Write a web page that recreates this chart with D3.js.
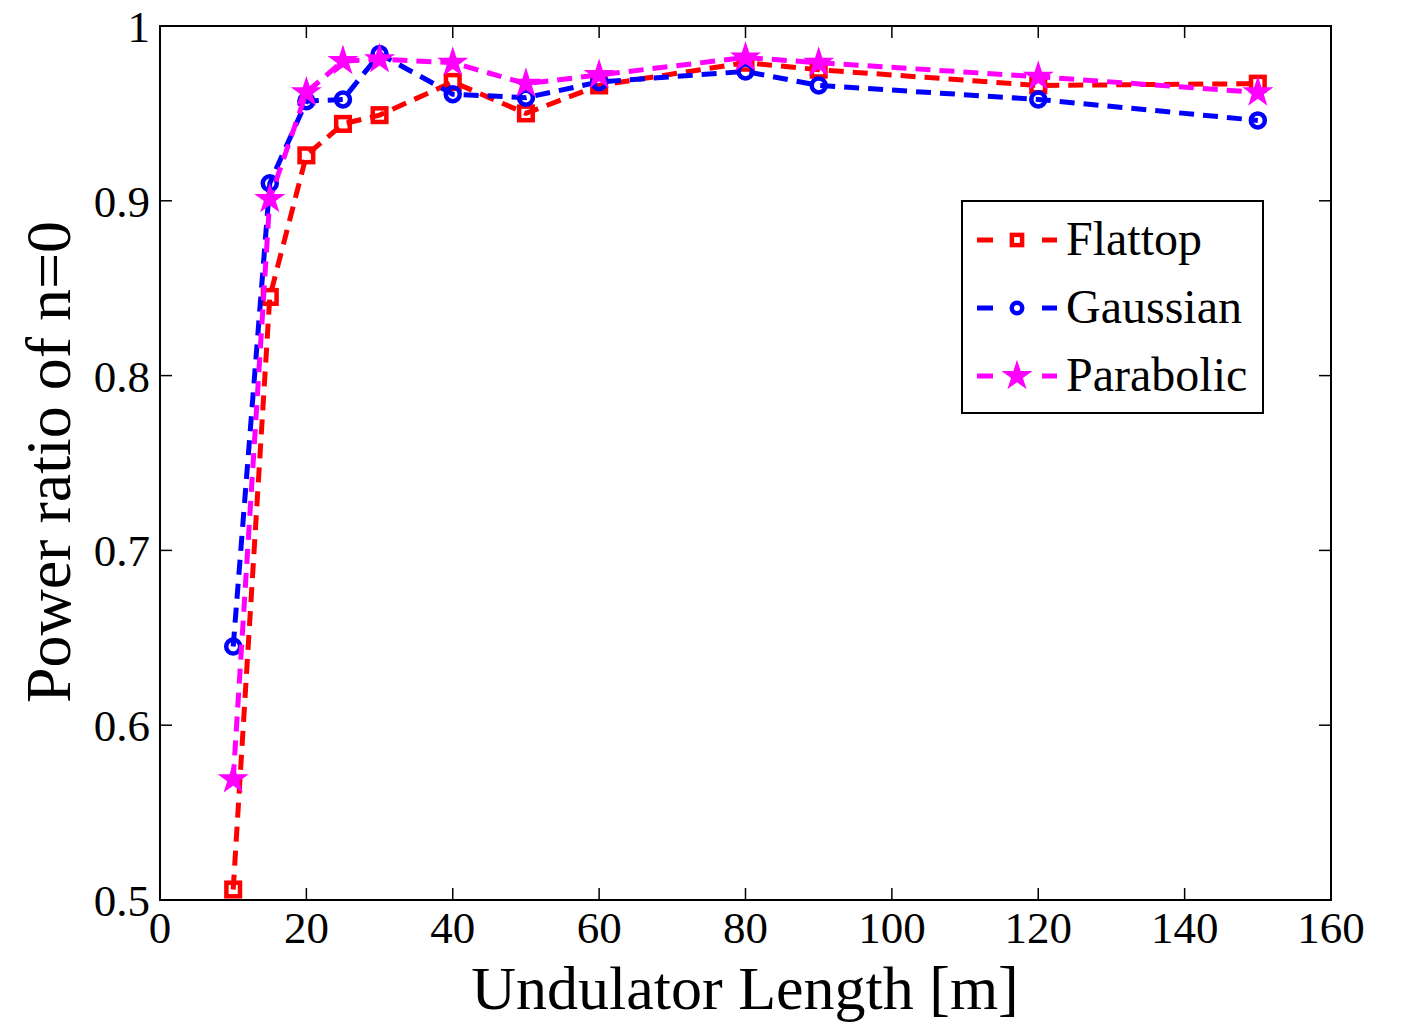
<!DOCTYPE html>
<html>
<head>
<meta charset="utf-8">
<script src="https://cdn.jsdelivr.net/npm/d3@7"></script>
<style>
  body { margin: 0; background: #fff; }
  text { font-family: "Liberation Serif", "DejaVu Serif", serif; fill: #000; }
</style>
</head>
<body>
<svg id="chart" width="1405" height="1024"></svg>
<script>
(function () {
'use strict';

var lengths = [10, 15, 20, 25, 30, 40, 50, 60, 80, 90, 120, 150];
var flattop = [0.506, 0.845, 0.926, 0.944, 0.949, 0.968, 0.950, 0.966, 0.979, 0.975, 0.966, 0.967];
var gaussian = [0.645, 0.910, 0.957, 0.958, 0.984, 0.961, 0.959, 0.968, 0.974, 0.966, 0.958, 0.946];
var parabolic = [0.569, 0.901, 0.962, 0.980, 0.981, 0.979, 0.967, 0.972, 0.982, 0.979, 0.971, 0.962];
var xTicks = [0, 20, 40, 60, 80, 100, 120, 140, 160];
var yTicks = [0.5, 0.6, 0.7, 0.8, 0.9, 1];

var series = [
    { name: "Flattop", values: flattop, color: "#ff0000", marker: "square" },
    { name: "Gaussian", values: gaussian, color: "#0000ff", marker: "circle" },
    { name: "Parabolic", values: parabolic, color: "#ff00ff", marker: "star" }
];

var svg = d3.select("#chart");
var left = 160, right = 1331, top = 26, bottom = 900;

var x = d3.scaleLinear().domain([0, 160]).range([left, right]);
var y = d3.scaleLinear().domain([0.5, 1]).range([bottom, top]);

var tickLen = 12;

// box
svg.append("rect")
    .attr("x", left).attr("y", top)
    .attr("width", right - left).attr("height", bottom - top)
    .attr("fill", "none").attr("stroke", "#000").attr("stroke-width", 2);

// inward ticks on all sides
var axisG = svg.append("g").attr("stroke", "#000").attr("stroke-width", 1.5);
xTicks.forEach(function (t) {
    axisG.append("line").attr("x1", x(t)).attr("x2", x(t)).attr("y1", bottom).attr("y2", bottom - tickLen);
    axisG.append("line").attr("x1", x(t)).attr("x2", x(t)).attr("y1", top).attr("y2", top + tickLen);
});
yTicks.forEach(function (t) {
    axisG.append("line").attr("x1", left).attr("x2", left + tickLen).attr("y1", y(t)).attr("y2", y(t));
    axisG.append("line").attr("x1", right).attr("x2", right - tickLen).attr("y1", y(t)).attr("y2", y(t));
});

// tick labels
svg.selectAll("text.xtick")
    .data(xTicks)
    .enter().append("text")
    .attr("class", "xtick")
    .attr("x", function (d) { return x(d); })
    .attr("y", 943)
    .attr("text-anchor", "middle")
    .attr("font-size", 45)
    .text(function (d) { return d; });

svg.selectAll("text.ytick")
    .data(yTicks)
    .enter().append("text")
    .attr("class", "ytick")
    .attr("x", 150)
    .attr("y", function (d) { return y(d) + 16; })
    .attr("text-anchor", "end")
    .attr("font-size", 45)
    .text(function (d) { return d === 1 ? "1" : d3.format(".1f")(d); });

// axis labels
svg.append("text")
    .attr("x", 745).attr("y", 1009)
    .attr("text-anchor", "middle")
    .attr("font-size", 62)
    .text("Undulator Length [m]");

svg.append("text")
    .attr("transform", "translate(70,462) rotate(-90)")
    .attr("text-anchor", "middle")
    .attr("font-size", 64)
    .text("Power ratio of n=0");

var line = d3.line()
    .x(function (d) { return x(d[0]); })
    .y(function (d) { return y(d[1]); });

function drawMarker(g, type, color, cx, cy, k) {
    k = k || 1;
    if (type === "square") {
        var h = 6.8 * k;
        g.append("rect")
            .attr("x", cx - h).attr("y", cy - h)
            .attr("width", 2 * h).attr("height", 2 * h)
            .attr("fill", "none").attr("stroke", color).attr("stroke-width", 4.5);
    } else if (type === "circle") {
        g.append("circle")
            .attr("cx", cx).attr("cy", cy).attr("r", 7 * k)
            .attr("fill", "none").attr("stroke", color).attr("stroke-width", 4.5);
    } else {
        g.append("path")
            .attr("d", d3.symbol().type(d3.symbolStar).size(300 * k * k)())
            .attr("transform", "translate(" + cx + "," + cy + ")")
            .attr("fill", color);
    }
}

var plot = svg.append("g");
series.forEach(function (s) {
    var pts = lengths.map(function (l, i) { return [l, s.values[i]]; });
    var g = plot.append("g");
    g.append("path")
        .datum(pts)
        .attr("d", line)
        .attr("fill", "none")
        .attr("stroke", s.color)
        .attr("stroke-width", 5)
        .attr("stroke-dasharray", "15,9");
    pts.forEach(function (p) {
        drawMarker(g, s.marker, s.color, x(p[0]), y(p[1]));
    });
});

// legend
var legend = svg.append("g");
legend.append("rect")
    .attr("x", 962).attr("y", 201)
    .attr("width", 301).attr("height", 212)
    .attr("fill", "#fff").attr("stroke", "#000").attr("stroke-width", 2);

series.forEach(function (s, i) {
    var ly = 240 + i * 68;
    [[977, 993], [1042, 1057]].forEach(function (seg) {
        legend.append("line")
            .attr("x1", seg[0]).attr("x2", seg[1]).attr("y1", ly).attr("y2", ly)
            .attr("stroke", s.color).attr("stroke-width", 5);
    });
    drawMarker(legend, s.marker, s.color, 1017, ly, s.marker === "star" ? 1 : 0.75);
    legend.append("text")
        .attr("x", 1066).attr("y", ly + 15)
        .attr("font-size", 48)
        .text(s.name);
});
})();
</script>
</body>
</html>
